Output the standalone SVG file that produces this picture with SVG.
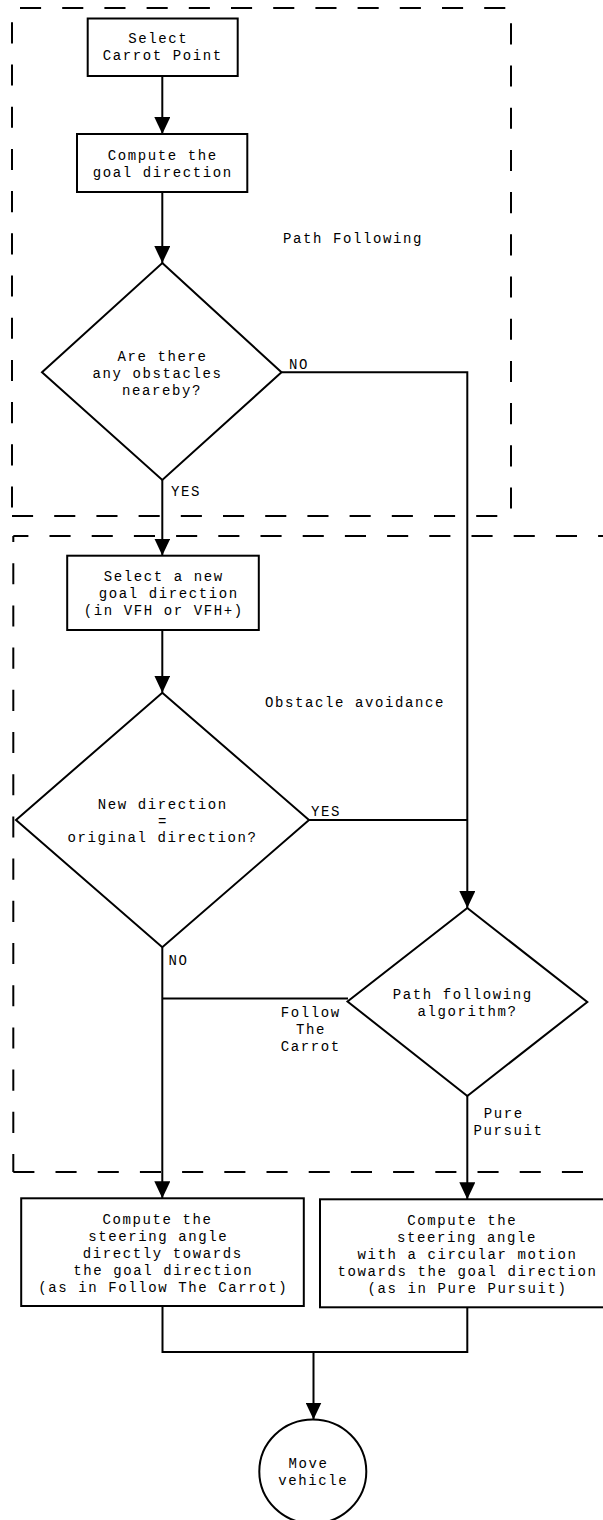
<svg xmlns="http://www.w3.org/2000/svg" width="603" height="1520" viewBox="0 0 603 1520">
<style>
.n{fill:#fff;stroke:#000;stroke-width:2}
.c{fill:none;stroke:#000;stroke-width:2}
.d{fill:none;stroke:#000;stroke-width:2;stroke-dasharray:21.1 21.1}
text{font-family:"Liberation Mono","DejaVu Sans Mono",monospace;font-size:14px;letter-spacing:1.6px;fill:#000}
.m{text-anchor:middle}
</style>
<defs>
<marker id="ah" viewBox="0 0 17 16" refX="17" refY="8" markerWidth="17" markerHeight="16" orient="auto" markerUnits="userSpaceOnUse">
<path d="M0,0 L17,8 L0,16 z" fill="#000"/>
</marker>
</defs>
<rect width="603" height="1520" fill="#fff"/>
<g id="regions">
<line class="d" x1="12" y1="8" x2="511" y2="8" stroke-dashoffset="34.2"/>
<line class="d" x1="12" y1="8" x2="12" y2="516" stroke-dashoffset="27.9"/>
<line class="d" x1="511" y1="8" x2="511" y2="516" stroke-dashoffset="26.9"/>
<line class="d" x1="12" y1="516" x2="511" y2="516"/>
<text x="283" y="243">Path Following</text>
<line class="d" x1="13.3" y1="536" x2="620" y2="536" stroke-dashoffset="6"/>
<line class="d" x1="13.3" y1="536" x2="13.3" y2="1172" stroke-dashoffset="15"/>
<line class="d" x1="13.3" y1="1172" x2="620" y2="1172"/>
<text x="265" y="706.5">Obstacle avoidance</text>
</g>
<g id="connectors">
<path class="c" d="M162.3,76 V134" marker-end="url(#ah)"/>
<path class="c" d="M162.3,192 V263" marker-end="url(#ah)"/>
<path class="c" d="M162.3,480 V555.5" marker-end="url(#ah)"/>
<path class="c" d="M281.5,372.3 H467.3 V908" marker-end="url(#ah)"/>
<path class="c" d="M309,820 H467.3"/>
<path class="c" d="M162.3,630 V692.7" marker-end="url(#ah)"/>
<path class="c" d="M162.3,947.3 V1198.3" marker-end="url(#ah)"/>
<path class="c" d="M348,998.5 H162.3"/>
<path class="c" d="M467.3,1096 V1199.3" marker-end="url(#ah)"/>
<path class="c" d="M162.5,1306 V1352 H467.3 V1307.3"/>
<path class="c" d="M313.5,1352 V1419.5" marker-end="url(#ah)"/>
<text x="289" y="369">NO</text>
<text x="171" y="496">YES</text>
<text x="311" y="816">YES</text>
<text x="168.5" y="965">NO</text>
<text class="m" x="310.8" y="1017">Follow</text>
<text class="m" x="311" y="1034">The</text>
<text class="m" x="310.8" y="1050.5">Carrot</text>
<text class="m" x="503.8" y="1118">Pure</text>
<text class="m" x="508.5" y="1135">Pursuit</text>
</g>
<g id="select-carrot">
<rect class="n" x="87.7" y="18.5" width="150" height="57.5"/>
<text class="m" x="158.3" y="43">Select</text>
<text class="m" x="162.8" y="60">Carrot Point</text>
</g>
<g id="compute-goal">
<rect class="n" x="77" y="134" width="170.3" height="58"/>
<text class="m" x="162.8" y="159.5">Compute the</text>
<text class="m" x="162.8" y="176.5">goal direction</text>
</g>
<g id="obstacles-q">
<polygon class="n" points="162.3,263 281.5,372.3 162.3,480 42,372.3"/>
<text class="m" x="162.5" y="360.5">Are there</text>
<text class="m" x="157.5" y="377.5">any obstacles</text>
<text class="m" x="162" y="394.5">neareby?</text>
</g>
<g id="select-new">
<rect class="n" x="67.2" y="555.7" width="191.6" height="74.3"/>
<text class="m" x="163.8" y="581">Select a new</text>
<text class="m" x="168.8" y="598">goal direction</text>
<text class="m" x="163.8" y="615">(in VFH or VFH+)</text>
</g>
<g id="same-direction-q">
<polygon class="n" points="162.3,692.7 309,820 162.3,947.3 16,820"/>
<text class="m" x="162.8" y="808.5">New direction</text>
<text class="m" x="163" y="825.5">=</text>
<text class="m" x="162.5" y="842">original direction?</text>
</g>
<g id="algorithm-q">
<polygon class="n" points="467.3,908 587.3,1002 467.3,1096 347.5,1001.5"/>
<text class="m" x="462.8" y="998.5">Path following</text>
<text class="m" x="467.5" y="1015.5">algorithm?</text>
</g>
<g id="ftc-steer">
<rect class="n" x="21.2" y="1198.3" width="282.6" height="107.7"/>
<text class="m" x="157.5" y="1223.5">Compute the</text>
<text class="m" x="158.3" y="1240.5">steering angle</text>
<text class="m" x="162.8" y="1257.5">directly towards</text>
<text class="m" x="163.3" y="1274.5">the goal direction</text>
<text class="m" x="163.3" y="1291.5">(as in Follow The Carrot)</text>
</g>
<g id="pp-steer">
<rect class="n" x="320" y="1199.3" width="294" height="108"/>
<text class="m" x="462.3" y="1224.5">Compute the</text>
<text class="m" x="467.1" y="1241.5">steering angle</text>
<text class="m" x="467.5" y="1258.5">with a circular motion</text>
<text class="m" x="467.5" y="1275.5">towards the goal direction</text>
<text class="m" x="467.5" y="1292.5">(as in Pure Pursuit)</text>
</g>
<g id="move-vehicle">
<ellipse class="n" cx="312.8" cy="1471.5" rx="53.5" ry="52"/>
<text class="m" x="308.5" y="1468">Move</text>
<text class="m" x="313.3" y="1485">vehicle</text>
</g>
</svg>
